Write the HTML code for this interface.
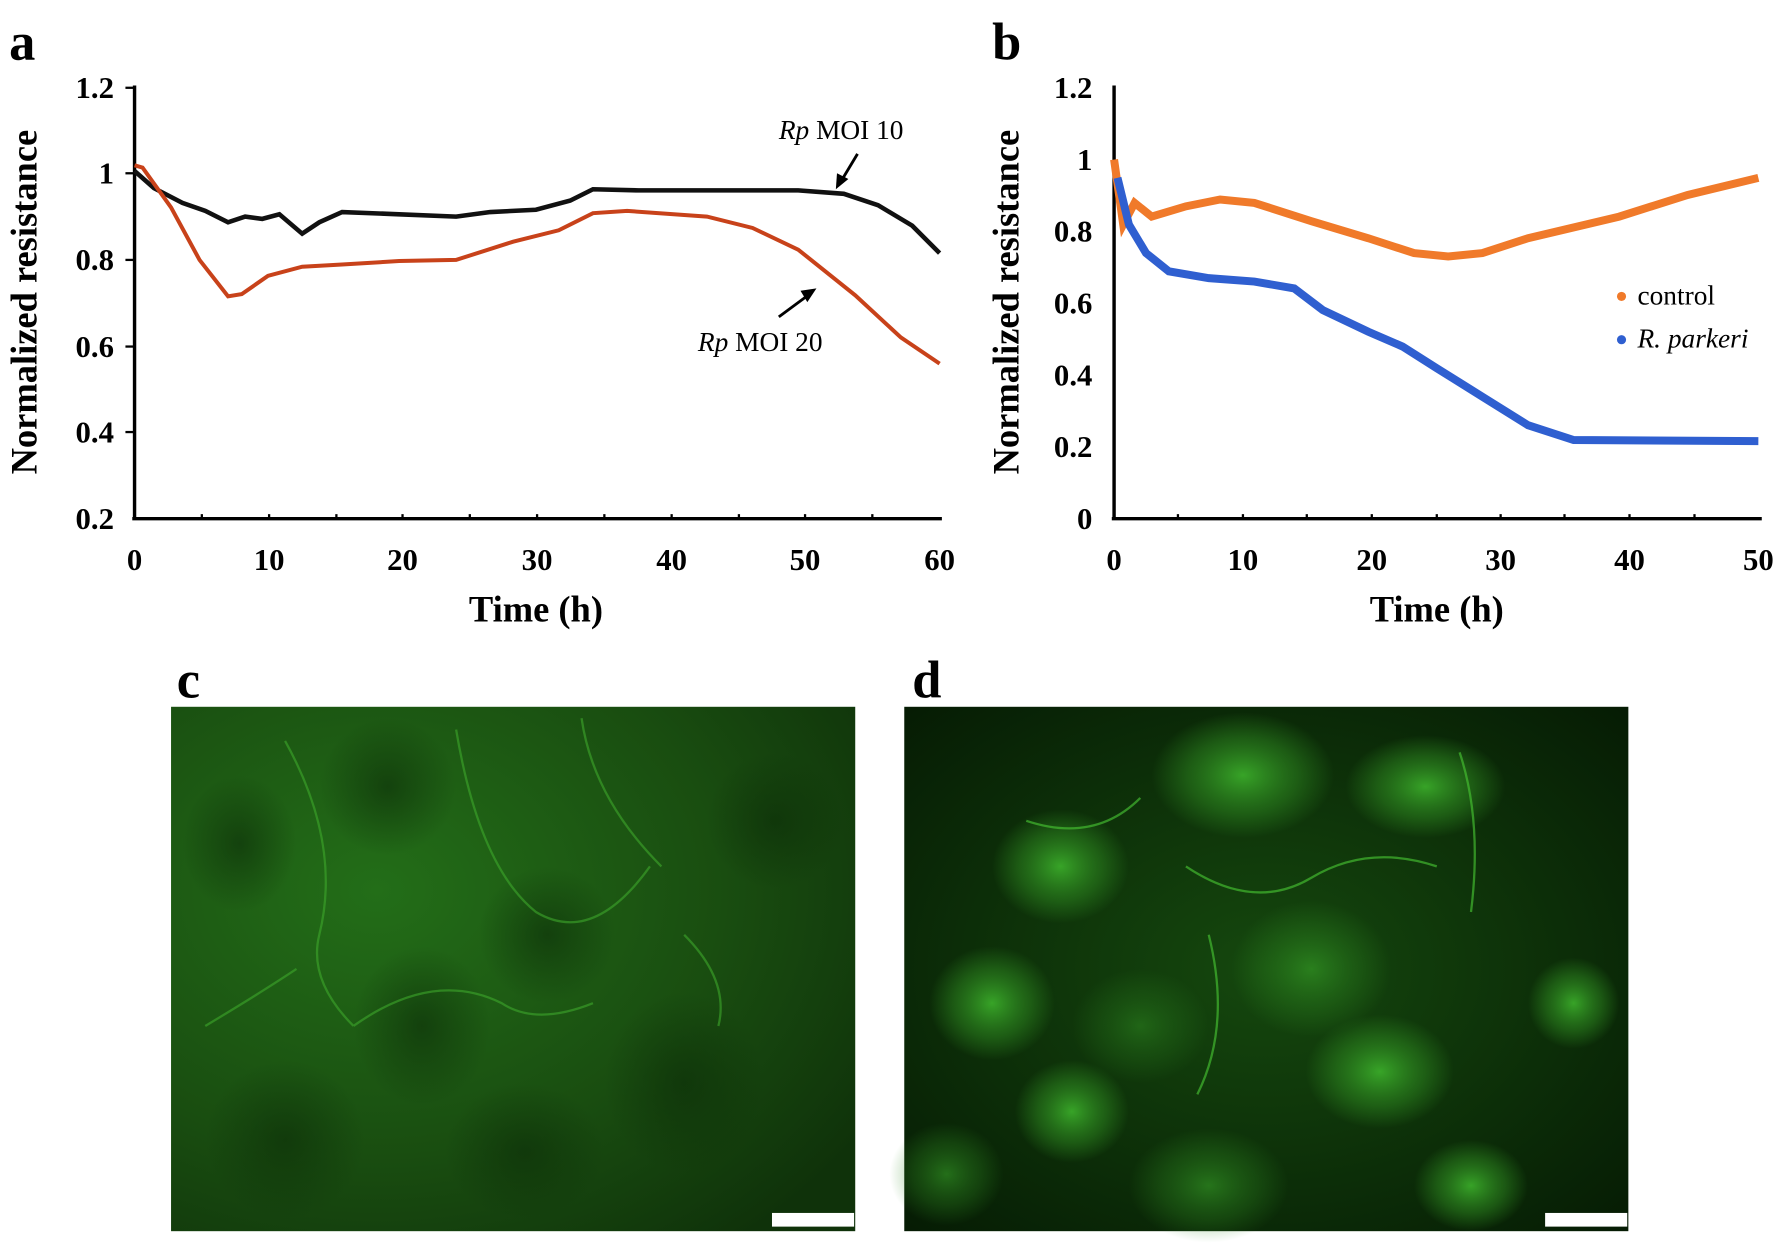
<!DOCTYPE html>
<html><head><meta charset="utf-8"><style>
html,body{margin:0;padding:0;background:#fff}
svg{display:block}
text{font-family:"Liberation Serif",serif}
</style></head><body>
<svg width="1788" height="1246" viewBox="0 0 1568 1093" preserveAspectRatio="none" xmlns="http://www.w3.org/2000/svg">
<defs>
<radialGradient id="gc" cx="0.3" cy="0.35" r="0.85"><stop offset="0" stop-color="#236e18"/><stop offset="0.6" stop-color="#194d10"/><stop offset="1" stop-color="#0f320a"/></radialGradient>
<radialGradient id="gd" cx="0.5" cy="0.5" r="0.7"><stop offset="0" stop-color="#15480e"/><stop offset="1" stop-color="#061c04"/></radialGradient>
<radialGradient id="cell" cx="0.5" cy="0.5" r="0.5"><stop offset="0" stop-color="#3fb82d" stop-opacity="0.85"/><stop offset="0.6" stop-color="#2e8a20" stop-opacity="0.5"/><stop offset="1" stop-color="#2e8a20" stop-opacity="0"/></radialGradient>
<radialGradient id="cellc" cx="0.5" cy="0.5" r="0.5"><stop offset="0" stop-color="#0c2e08" stop-opacity="0.6"/><stop offset="1" stop-color="#0c2e08" stop-opacity="0"/></radialGradient>
</defs>
<g font-weight="bold" font-size="46">
<text x="8" y="52">a</text><text x="870" y="52">b</text>
<text x="155" y="612">c</text><text x="800" y="612">d</text>
</g>
<g stroke="#000" stroke-width="3" fill="none">
<line x1="118" y1="75" x2="118" y2="456"/><line x1="116" y1="455" x2="826" y2="455"/>
</g>
<g stroke="#000" stroke-width="2">
<line x1="110" y1="77" x2="118" y2="77"/><line x1="110" y1="152" x2="118" y2="152"/><line x1="110" y1="228" x2="118" y2="228"/><line x1="110" y1="304" x2="118" y2="304"/><line x1="110" y1="379" x2="118" y2="379"/>
<line x1="177" y1="451" x2="177" y2="455"/><line x1="236" y1="451" x2="236" y2="455"/><line x1="295" y1="451" x2="295" y2="455"/><line x1="353" y1="451" x2="353" y2="455"/><line x1="412" y1="451" x2="412" y2="455"/><line x1="471" y1="451" x2="471" y2="455"/><line x1="530" y1="451" x2="530" y2="455"/><line x1="589" y1="451" x2="589" y2="455"/><line x1="648" y1="451" x2="648" y2="455"/><line x1="706" y1="451" x2="706" y2="455"/><line x1="765" y1="451" x2="765" y2="455"/>
<line x1="1033" y1="451" x2="1033" y2="455"/><line x1="1090" y1="451" x2="1090" y2="455"/><line x1="1146" y1="451" x2="1146" y2="455"/><line x1="1203" y1="451" x2="1203" y2="455"/><line x1="1260" y1="451" x2="1260" y2="455"/><line x1="1316" y1="451" x2="1316" y2="455"/><line x1="1372" y1="451" x2="1372" y2="455"/><line x1="1429" y1="451" x2="1429" y2="455"/><line x1="1486" y1="451" x2="1486" y2="455"/>
</g>
<g font-weight="bold" font-size="27" text-anchor="end">
<text x="100" y="86">1.2</text><text x="100" y="161">1</text><text x="100" y="237">0.8</text><text x="100" y="313">0.6</text><text x="100" y="388">0.4</text><text x="100" y="464">0.2</text>
</g>
<g font-weight="bold" font-size="27" text-anchor="middle">
<text x="118" y="500">0</text><text x="236" y="500">10</text><text x="353" y="500">20</text><text x="471" y="500">30</text><text x="589" y="500">40</text><text x="706" y="500">50</text><text x="824" y="500">60</text>
<text x="470" y="545" font-size="32">Time (h)</text>
<text transform="translate(32,265) rotate(-90)" font-size="32">Normalized resistance</text>
</g>
<polyline fill="none" stroke="#111" stroke-width="4" points="118,150 135,165 160,178 180,185 200,195 215,190 230,192 245,188 265,205 280,195 300,186 350,188 400,190 430,186 470,184 500,176 520,166 560,167 620,167 700,167 740,170 770,180 800,198 824,222"/>
<polyline fill="none" stroke="#c8421a" stroke-width="3.5" points="118,145 125,147 150,182 175,228 200,260 212,258 235,242 265,234 300,232 350,229 400,228 450,212 490,202 520,187 550,185 620,190 660,200 700,219 750,259 790,296 824,319"/>
<text x="683" y="122" font-size="24"><tspan font-style="italic">Rp</tspan> MOI 10</text>
<text x="612" y="308" font-size="24"><tspan font-style="italic">Rp</tspan> MOI 20</text>
<line x1="752" y1="135" x2="737" y2="160" stroke="#000" stroke-width="2.5"/><polygon points="733,166 734,152 744,157" fill="#000"/>
<line x1="683" y1="278" x2="710" y2="258" stroke="#000" stroke-width="2.5"/><polygon points="716,253 702,255 708,265" fill="#000"/>
<g stroke="#000" stroke-width="3" fill="none">
<line x1="977" y1="75" x2="977" y2="456"/><line x1="975" y1="455" x2="1545" y2="455"/>
</g>
<g font-weight="bold" font-size="27" text-anchor="end">
<text x="958" y="86">1.2</text><text x="958" y="149">1</text><text x="958" y="212">0.8</text><text x="958" y="275">0.6</text><text x="958" y="338">0.4</text><text x="958" y="401">0.2</text><text x="958" y="464">0</text>
</g>
<g font-weight="bold" font-size="27" text-anchor="middle">
<text x="977" y="500">0</text><text x="1090" y="500">10</text><text x="1203" y="500">20</text><text x="1316" y="500">30</text><text x="1429" y="500">40</text><text x="1542" y="500">50</text>
<text x="1260" y="545" font-size="32">Time (h)</text>
<text transform="translate(893,265) rotate(-90)" font-size="32">Normalized resistance</text>
</g>
<polyline fill="none" stroke="#f07a2a" stroke-width="7" points="977,140 985,197 995,178 1010,190 1040,181 1070,175 1100,178 1150,194 1200,209 1240,222 1270,225 1300,222 1340,209 1420,190 1480,171 1542,156"/>
<polyline fill="none" stroke="#2f5fd0" stroke-width="7" points="980,156 990,197 1005,222 1025,238 1060,244 1100,247 1135,253 1160,272 1200,291 1230,304 1260,323 1300,348 1340,373 1380,386 1542,387"/>
<circle cx="1422" cy="260" r="4" fill="#f07a2a"/><text x="1436" y="267" font-size="24">control</text>
<circle cx="1422" cy="298" r="4" fill="#2f5fd0"/><text x="1436" y="305" font-size="24" font-style="italic">R. parkeri</text>
<rect x="150" y="620" width="600" height="460" fill="url(#gc)"/>
<g>
<ellipse cx="210" cy="740" rx="50" ry="60" fill="url(#cellc)"/><ellipse cx="340" cy="690" rx="60" ry="60" fill="url(#cellc)"/>
<ellipse cx="480" cy="820" rx="60" ry="60" fill="url(#cellc)"/><ellipse cx="370" cy="900" rx="60" ry="70" fill="url(#cellc)"/>
<ellipse cx="600" cy="950" rx="70" ry="80" fill="url(#cellc)"/><ellipse cx="250" cy="1000" rx="70" ry="70" fill="url(#cellc)"/>
<ellipse cx="460" cy="1010" rx="70" ry="60" fill="url(#cellc)"/><ellipse cx="680" cy="720" rx="60" ry="60" fill="url(#cellc)"/>
</g>
<g stroke="#3ea82c" stroke-width="2" fill="none" opacity="0.6">
<path d="M250 650 Q300 740 280 820 Q270 860 310 900"/><path d="M400 640 Q420 760 470 800 Q520 830 570 760"/><path d="M510 630 Q520 700 580 760"/><path d="M310 900 Q380 850 440 880 Q470 900 520 880"/><path d="M600 820 Q640 860 630 900"/><path d="M180 900 Q230 870 260 850"/>
</g>
<rect x="677" y="1064" width="72" height="12" fill="#fff"/>
<rect x="793" y="620" width="635" height="460" fill="url(#gd)"/>
<g fill="url(#cell)">
<ellipse cx="870" cy="880" rx="55" ry="50"/><ellipse cx="940" cy="975" rx="50" ry="45"/><ellipse cx="1210" cy="940" rx="65" ry="50"/>
<ellipse cx="1290" cy="1040" rx="50" ry="40"/><ellipse cx="1380" cy="880" rx="40" ry="40"/><ellipse cx="1090" cy="680" rx="80" ry="55"/>
<ellipse cx="930" cy="760" rx="60" ry="50"/><ellipse cx="1250" cy="690" rx="70" ry="45"/><ellipse cx="1150" cy="850" rx="70" ry="60" opacity="0.6"/>
<ellipse cx="1060" cy="1040" rx="70" ry="50" opacity="0.6"/><ellipse cx="830" cy="1030" rx="50" ry="45" opacity="0.6"/><ellipse cx="1000" cy="900" rx="60" ry="50" opacity="0.4"/>
</g>
<g stroke="#46c232" stroke-width="2" fill="none" opacity="0.65">
<path d="M1040 760 Q1100 800 1150 770 Q1200 740 1260 760"/><path d="M1060 820 Q1080 900 1050 960"/><path d="M1280 660 Q1300 720 1290 800"/><path d="M900 720 Q960 740 1000 700"/>
</g>
<rect x="1355" y="1064" width="72" height="12" fill="#fff"/>
</svg>
</body></html>
